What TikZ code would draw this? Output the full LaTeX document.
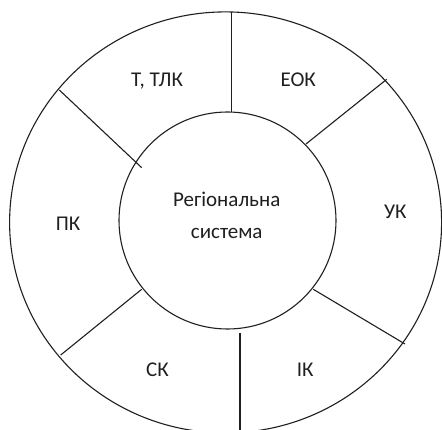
\documentclass[tikz,border=0pt]{standalone}
\usepackage{fontspec}
\setmainfont{Carlito}
\usetikzlibrary{shapes.geometric}
\begin{document}
\begin{tikzpicture}[x=1pt, y=-1pt,
  ring/.style={draw=black!88, line width=1.1pt, inner sep=0pt, outer sep=0pt},
  divider/.style={draw=black!88, line width=1.1pt},
  sector/.style={font=\fontsize{21}{32}\selectfont, inner sep=0pt, anchor=base, text=black!88},
  hub/.style={font=\fontsize{21}{32}\selectfont, inner sep=0pt, align=center, text=black!88}]
\useasboundingbox (0,0) rectangle (442,430);

% outer ring and central circle
\node[ring, ellipse, minimum width=432pt, minimum height=421pt] (outer) at (225.6,222.4) {};
\node[ring, circle, minimum size=217pt] (inner) at (227.5,220.5) {};

% radial dividers between the sectors
\coordinate (a1) at (231.7,11.7);  \coordinate (b1) at (231.7,111.7);
\coordinate (a2) at (386.7,79.3);  \coordinate (b2) at (306,144);
\coordinate (a3) at (59.3,90);     \coordinate (b3) at (141.7,167.7);
\coordinate (a4) at (60.7,355);    \coordinate (b4) at (141.7,289.3);
\coordinate (a5) at (405,344);     \coordinate (b5) at (313.3,289.3);
\coordinate (a6) at (240,434);     \coordinate (b6) at (240,333.3);
\foreach \i in {1,...,6} \draw[divider] (a\i) -- (b\i);

% sector labels
\node[sector] (ttlk) at (157,86.5) {Т, ТЛК};
\node[sector] (eok)  at (298.3,86.5) {ЕОК};
\node[sector] (uk)   at (395.3,219) {УК};
\node[sector] (pk)   at (68,231) {ПК};
\node[sector] (sk)   at (157.5,376.7) {СК};
\node[sector] (ik)   at (305.3,376.7) {ІК};

% centre label
\node[hub] (reg) at (226.7,215.5) {Регіональна\\система};
\end{tikzpicture}
\end{document}
